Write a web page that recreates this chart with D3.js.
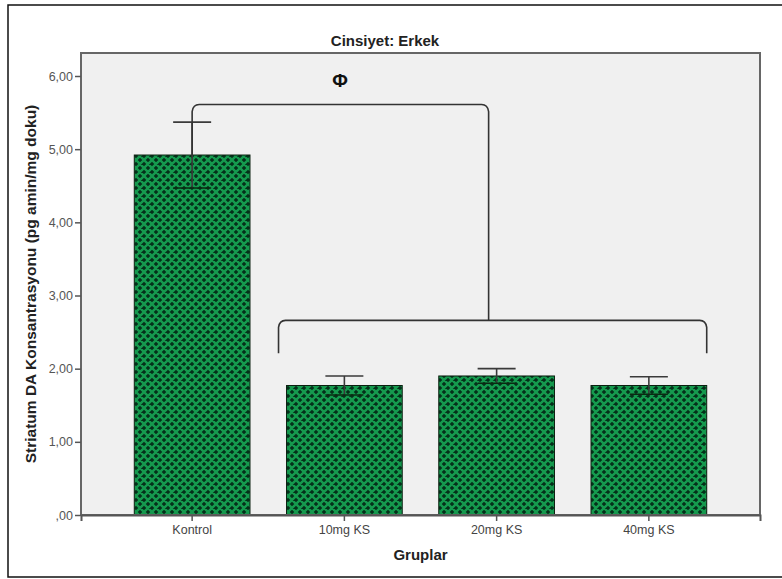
<!DOCTYPE html>
<html>
<head>
<meta charset="utf-8">
<script src="https://cdn.jsdelivr.net/npm/d3@7"></script>
<style>
  html, body { margin: 0; padding: 0; background: #ffffff; overflow: hidden; }
  svg { display: block; }
</style>
</head>
<body>
<svg id="chart" width="782" height="579"></svg>
<script>
// Striatum dopamine concentration by group, male animals
const categories = ["Kontrol", "10mg KS", "20mg KS", "40mg KS"];
const means = [4.92, 1.77, 1.90, 1.77];
const errors = [0.45, 0.13, 0.10, 0.12];
const yTicks = [0, 1, 2, 3, 4, 5, 6];
const yTickLabels = [",00", "1,00", "2,00", "3,00", "4,00", "5,00", "6,00"];
// significance bracket levels (axis units)
const upperBracketLevel = 5.61;
const lowerBracketLevel = 2.66;
const lowerBracketDrop = 2.21;
const symbolLabel = "Φ";

const svg = d3.select("#chart");
const W = 782, H = 579;
const plot = { left: 81, right: 760, top: 53, bottom: 515 };

// outer frame (left, top, bottom edges)
svg.append("path")
  .attr("d", `M${W},5 L8,5 L8,577 L${W},577`)
  .attr("fill", "none").attr("stroke", "#111").attr("stroke-width", 1.5);

// plot background
svg.append("rect")
  .attr("x", plot.left).attr("y", plot.top)
  .attr("width", plot.right - plot.left).attr("height", plot.bottom - plot.top)
  .attr("fill", "#f0f0f0");

const x = d3.scaleBand()
  .domain(categories)
  .range([plot.left, plot.right])
  .paddingInner(0.24)
  .paddingOuter(0.35);

const y = d3.scaleLinear().domain([0, 6]).range([515, 76]);

// crosshatch fill for bars
const defs = svg.append("defs");
const pat = defs.append("pattern")
  .attr("id", "hatch").attr("patternUnits", "userSpaceOnUse")
  .attr("width", 8).attr("height", 8);
pat.append("rect").attr("width", 8).attr("height", 8).attr("fill", "#04301a");
pat.append("path")
  .attr("d", "M-2,2 L2,-2 M0,8 L8,0 M6,10 L10,6 M-2,6 L2,10 M0,0 L8,8 M6,-2 L10,2")
  .attr("stroke", "#159a4e").attr("stroke-width", 2.4);

// bars
svg.append("g").selectAll("rect")
  .data(categories)
  .join("rect")
  .attr("x", d => x(d))
  .attr("y", (d, i) => y(means[i]))
  .attr("width", x.bandwidth())
  .attr("height", (d, i) => y(0) - y(means[i]))
  .attr("fill", "url(#hatch)")
  .attr("stroke", "#0b1f10").attr("stroke-width", 1);

// error bars
const capW = 38;
const eg = svg.append("g").attr("stroke", "#3a3a3a").attr("stroke-width", 1.6).attr("fill", "none");
categories.forEach((c, i) => {
  const cx = x(c) + x.bandwidth() / 2;
  const hi = y(means[i] + errors[i]);
  const lo = y(means[i] - errors[i]);
  eg.append("line").attr("x1", cx).attr("x2", cx).attr("y1", hi).attr("y2", lo);
  eg.append("line").attr("x1", cx - capW / 2).attr("x2", cx + capW / 2).attr("y1", hi).attr("y2", hi);
  eg.append("line").attr("x1", cx - capW / 2).attr("x2", cx + capW / 2).attr("y1", lo).attr("y2", lo)
    .attr("stroke", "#0a2a12");
});

// plot frame
svg.append("rect")
  .attr("x", plot.left).attr("y", plot.top)
  .attr("width", plot.right - plot.left).attr("height", plot.bottom - plot.top)
  .attr("fill", "none").attr("stroke", "#666").attr("stroke-width", 2);

// y axis
const yAxis = d3.axisLeft(y)
  .tickValues(yTicks)
  .tickFormat((d, i) => yTickLabels[i])
  .tickSize(6).tickPadding(2);
const gy = svg.append("g").attr("transform", `translate(${plot.left},0)`).call(yAxis);
gy.select(".domain").remove();
gy.selectAll(".tick line").attr("stroke", "#555").attr("stroke-width", 1.5);
gy.selectAll(".tick text")
  .attr("fill", "#555").attr("font-family", "Liberation Sans, Arial, sans-serif").attr("font-size", 12.5);

// x axis
const xAxis = d3.axisBottom(x).tickSize(6).tickPadding(4);
const gx = svg.append("g").attr("transform", `translate(0,${plot.bottom})`).call(xAxis);
gx.select(".domain").attr("stroke", "#555").attr("stroke-width", 2);
gx.selectAll(".tick line").attr("stroke", "#555").attr("stroke-width", 1.5);
gx.selectAll(".tick text")
  .attr("fill", "#444").attr("font-family", "Liberation Sans, Arial, sans-serif").attr("font-size", 12.5);

// brackets
const bg = svg.append("g").attr("fill", "none").attr("stroke", "#333").attr("stroke-width", 1.6);
const r = 7;
function bracket(x1, x2, yTop, yEnd1, yEnd2) {
  return `M${x1},${yEnd1} L${x1},${yTop + r} Q${x1 + 1},${yTop} ${x1 + r},${yTop}` +
         ` L${x2 - r},${yTop} Q${x2 - 1},${yTop} ${x2},${yTop + r} L${x2},${yEnd2}`;
}
const lowX1 = x(categories[1]) - 8;
const lowX2 = x(categories[3]) + x.bandwidth();
const upX1 = x(categories[0]) + x.bandwidth() / 2;
const upX2 = (lowX1 + lowX2) / 2 - 4;
bg.append("path").attr("d", bracket(upX1, upX2, y(upperBracketLevel), y(means[0]), y(lowerBracketLevel)));
bg.append("path").attr("d", bracket(lowX1, lowX2, y(lowerBracketLevel), y(lowerBracketDrop), y(lowerBracketDrop)));

svg.append("text")
  .attr("x", 340).attr("y", 87)
  .attr("text-anchor", "middle")
  .attr("font-family", "Liberation Sans, Arial, sans-serif").attr("font-weight", "bold").attr("font-size", 19)
  .attr("fill", "#111")
  .text(symbolLabel);

// titles
svg.append("text")
  .attr("x", 385).attr("y", 46)
  .attr("text-anchor", "middle")
  .attr("font-family", "Liberation Sans Narrow, Arial Narrow, sans-serif").attr("font-weight", "bold").attr("font-size", 15)
  .attr("fill", "#222")
  .text("Cinsiyet: Erkek");

svg.append("text")
  .attr("x", (plot.left + plot.right) / 2).attr("y", 560)
  .attr("text-anchor", "middle")
  .attr("font-family", "Liberation Sans, Arial, sans-serif").attr("font-weight", "bold").attr("font-size", 15)
  .attr("fill", "#222")
  .text("Gruplar");

svg.append("text")
  .attr("transform", `translate(36,${(plot.top + plot.bottom) / 2}) rotate(-90)`)
  .attr("text-anchor", "middle")
  .attr("font-family", "Liberation Sans, Arial, sans-serif").attr("font-weight", "bold").attr("font-size", 15.5)
  .attr("fill", "#222")
  .text("Striatum DA Konsantrasyonu (pg amin/mg doku)");
</script>
</body>
</html>
